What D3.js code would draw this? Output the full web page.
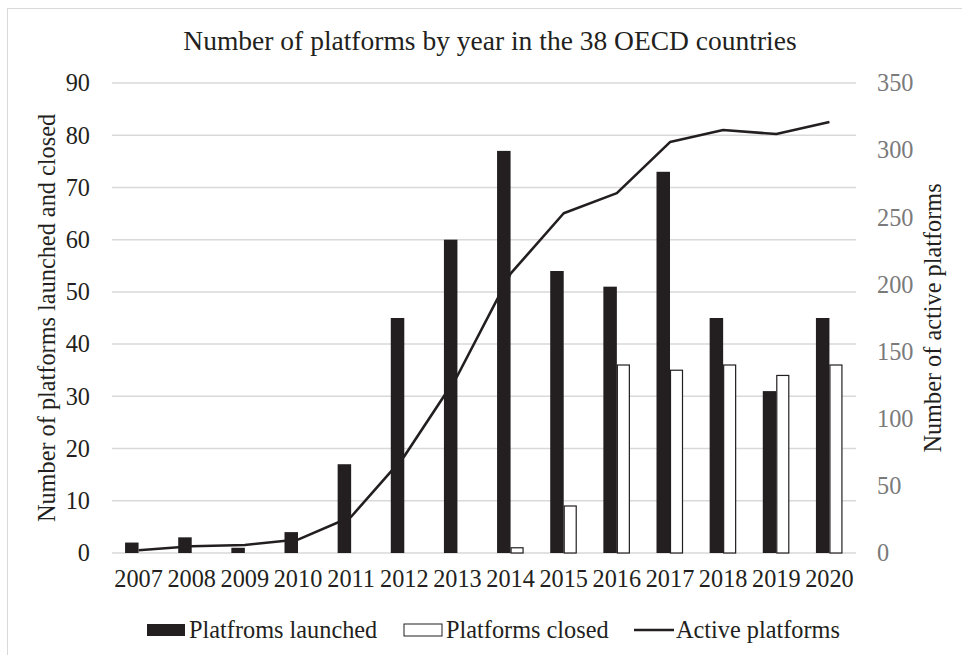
<!DOCTYPE html>
<html>
<head>
<meta charset="utf-8">
<script src="https://cdn.jsdelivr.net/npm/d3@7"></script>
</head>
<body style="margin:0;background:#fff">
<div class="canvas"></div>
<script>
// data
const years = ['2007', '2008', '2009', '2010', '2011', '2012', '2013', '2014', '2015', '2016', '2017', '2018', '2019', '2020'];
const launched = [2, 3, 1, 4, 17, 45, 60, 77, 54, 51, 73, 45, 31, 45];
const closed = [0, 0, 0, 0, 0, 0, 0, 1, 9, 36, 35, 36, 34, 36];
const active = [2, 5, 6, 10, 27, 72, 132, 208, 253, 268, 306, 315, 312, 321];
const leftTicks = [0, 10, 20, 30, 40, 50, 60, 70, 80, 90];
const rightTicks = [0, 50, 100, 150, 200, 250, 300, 350];

const width = 962, height = 655;
const margin = { top: 83, right: 106, bottom: 102, left: 112 };
const graphWidth = width - margin.left - margin.right;
const graphHeight = height - margin.top - margin.bottom;
const dark = '#231f20';
const font = "'Liberation Serif'";
const fs = 24.3;

const svg = d3.select('.canvas')
    .append('svg')
    .attr('width', width)
    .attr('height', height);

// light frame (only top/left edges visible in the reference)
svg.append('rect')
    .attr('x', 7.5).attr('y', 8.5)
    .attr('width', 1000).attr('height', 1000)
    .attr('fill', 'none')
    .attr('stroke', '#d9d9d9');

const graph = svg.append('g')
    .attr('transform', `translate(${margin.left},${margin.top})`);

const x = d3.scaleBand().domain(years).range([0, graphWidth]);
const yLeft = d3.scaleLinear().domain([0, 90]).range([graphHeight, 0]);
const yRight = d3.scaleLinear().domain([0, 350]).range([graphHeight, 0]);

// gridlines
graph.append('g')
    .selectAll('line')
    .data(leftTicks)
    .join('line')
    .attr('x1', 0).attr('x2', graphWidth)
    .attr('y1', d => yLeft(d)).attr('y2', d => yLeft(d))
    .attr('stroke', '#d9d9d9')
    .attr('stroke-width', 1.5);

// axes
const leftAxis = graph.append('g')
    .call(d3.axisLeft(yLeft).tickValues(leftTicks).tickSize(0).tickPadding(22));
const rightAxis = graph.append('g')
    .attr('transform', `translate(${graphWidth},0)`)
    .call(d3.axisRight(yRight).tickValues(rightTicks).tickSize(0).tickPadding(21));
const bottomAxis = graph.append('g')
    .attr('transform', `translate(0,${graphHeight})`)
    .call(d3.axisBottom(x).tickSize(0).tickPadding(17));

[leftAxis, rightAxis, bottomAxis].forEach(a => {
    a.attr('font-family', null).attr('font-size', null);
    a.select('.domain').remove();
    a.selectAll('text').attr('font-size', fs).attr('font-family', font);
});
leftAxis.selectAll('text').attr('fill', dark);
rightAxis.selectAll('text').attr('fill', '#7a7a7a');
bottomAxis.selectAll('text').attr('fill', dark);

// bars (year kept with each value)
const bw = 13.5;
const launchedData = years.map((y, i) => ({ year: y, value: launched[i] }));
const closedData = years.map((y, i) => ({ year: y, value: closed[i] })).filter(d => d.value > 0);

graph.append('g')
    .selectAll('rect')
    .data(launchedData)
    .join('rect')
    .attr('x', d => x(d.year) + x.bandwidth() / 2 - bw)
    .attr('y', d => yLeft(d.value))
    .attr('width', bw)
    .attr('height', d => graphHeight - yLeft(d.value))
    .attr('fill', dark);

graph.append('g')
    .selectAll('rect')
    .data(closedData)
    .join('rect')
    .attr('x', d => x(d.year) + x.bandwidth() / 2 + 0.5)
    .attr('y', d => yLeft(d.value))
    .attr('width', bw - 1.5)
    .attr('height', d => graphHeight - yLeft(d.value))
    .attr('fill', '#fff')
    .attr('stroke', dark)
    .attr('stroke-width', 1.2);

// active line
const line = d3.line()
    .x((d, i) => x(years[i]) + x.bandwidth() / 2)
    .y(d => yRight(d));
graph.append('path')
    .datum(active)
    .attr('d', line)
    .attr('fill', 'none')
    .attr('stroke', dark)
    .attr('stroke-width', 2.6)
    .attr('stroke-linejoin', 'round');

// title
svg.append('text')
    .attr('x', 490).attr('y', 50)
    .attr('text-anchor', 'middle')
    .attr('font-family', font)
    .attr('font-size', 27.5)
    .attr('fill', dark)
    .text('Number of platforms by year in the 38 OECD countries');

// axis titles
svg.append('text')
    .attr('transform', `translate(55,${margin.top + graphHeight / 2}) rotate(-90)`)
    .attr('text-anchor', 'middle')
    .attr('font-family', font)
    .attr('font-size', fs)
    .attr('fill', dark)
    .text('Number of platforms launched and closed');
svg.append('text')
    .attr('transform', `translate(941,${margin.top + graphHeight / 2}) rotate(-90)`)
    .attr('text-anchor', 'middle')
    .attr('font-family', font)
    .attr('font-size', fs)
    .attr('fill', dark)
    .text('Number of active platforms');

// legend
const legend = svg.append('g').attr('transform', 'translate(0,630)');
const items = [
    { label: 'Platfroms launched', x: 147, type: 'fill' },
    { label: 'Platforms closed', x: 404, type: 'open' },
    { label: 'Active platforms', x: 634, type: 'line' }
];
items.forEach(it => {
    if (it.type === 'line') {
        legend.append('line')
            .attr('x1', it.x).attr('x2', it.x + 40)
            .attr('y1', 0).attr('y2', 0)
            .attr('stroke', dark).attr('stroke-width', 2.6);
    } else {
        legend.append('rect')
            .attr('x', it.x).attr('y', -6)
            .attr('width', 38).attr('height', 12)
            .attr('fill', it.type === 'fill' ? dark : '#fff')
            .attr('stroke', dark)
            .attr('stroke-width', it.type === 'fill' ? 0 : 1);
    }
    legend.append('text')
        .attr('x', it.x + 42).attr('y', 8)
        .attr('font-family', font)
        .attr('font-size', fs)
        .attr('fill', dark)
        .text(it.label);
});
</script>
</body>
</html>
